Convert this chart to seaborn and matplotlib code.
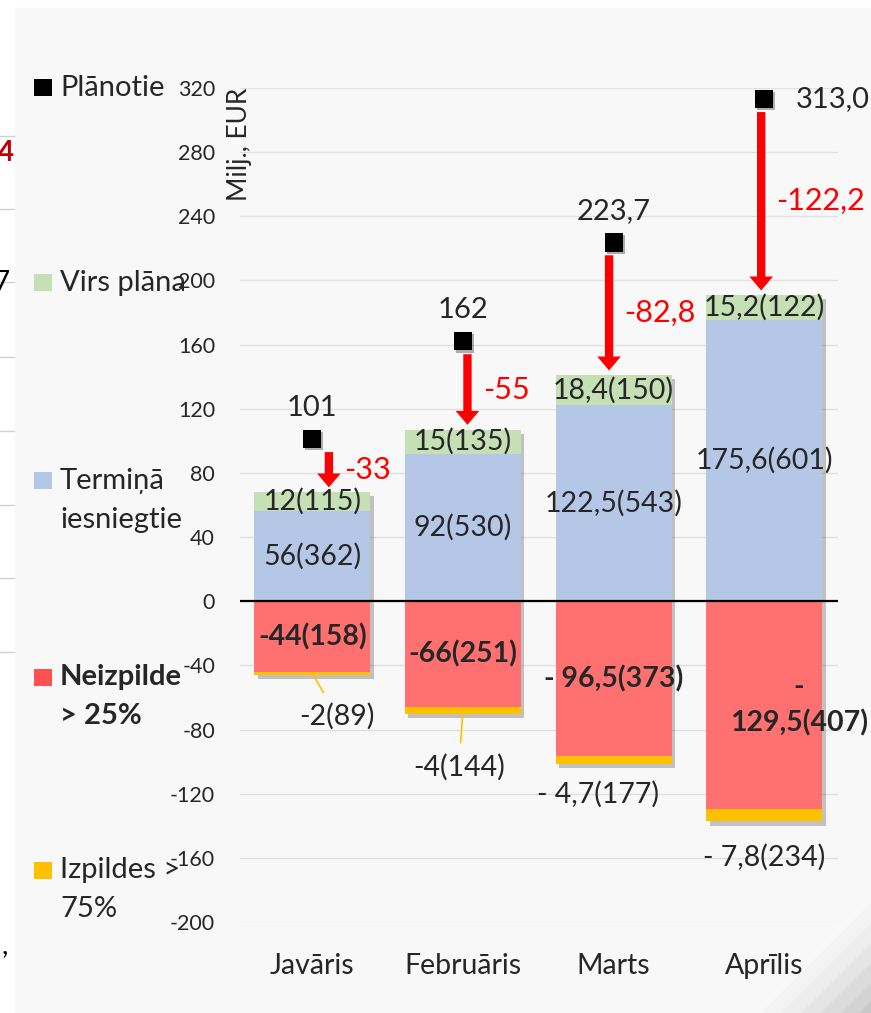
import numpy as np
import matplotlib
matplotlib.use("Agg")
import matplotlib.pyplot as plt
import seaborn as sns
import matplotlib.patheffects as pe
from matplotlib.patches import Rectangle, Polygon
from matplotlib.lines import Line2D

# Dati
menesi = ["Javāris", "Februāris", "Marts", "Aprīlis"]
planotie = [101, 162, 223.7, 313.0]
termina = [56, 92, 122.5, 175.6]
virs_plana = [12, 15, 18.4, 15.2]
neizpilde = [-44, -66, -96.5, -129.5]
izpildes = [-2, -4, -4.7, -7.8]

planotie_lbl = ["101", "162", "223,7", "313,0"]
starpiba_lbl = ["-33", "-55", "-82,8", "-122,2"]
termina_lbl = ["56(362)", "92(530)", "122,5(543)", "175,6(601)"]
virs_lbl = ["12(115)", "15(135)", "18,4(150)", "15,2(122)"]
neizpilde_lbl = ["-44(158)", "-66(251)", "- 96,5(373)", "-\n129,5(407)"]
izpildes_lbl = ["-2(89)", "-4(144)", "- 4,7(177)", "- 7,8(234)"]

legend_lbl = ["Plānotie", "Virs plāna", "Termiņā\niesniegtie", "Neizpilde\n> 25%", "Izpildes >\n75%"]

# krāsas
ZILA = "#b4c7e7"
ZALA = "#c5e0b4"
SARKANA = "#ff7171"
DZELTENA = "#ffc000"
FONS = "#f8f8f8"

sns.set_theme(style="white")
plt.rcParams["font.family"] = ["Lato", "DejaVu Sans"]

W, H = 871, 1013
fig = plt.figure(figsize=(W / 100, H / 100), dpi=100)
fig.patch.set_facecolor("white")

def fx(px):
    return px / W

def fy(py):
    return 1 - py / H

# pelēkais fons
fig.add_artist(Rectangle((fx(15), 0), 1, fy(8), transform=fig.transFigure,
                         color=FONS, zorder=-10))
# ēna labajā apakšējā stūrī
for d, a in [(110, 0.02), (90, 0.025), (70, 0.03), (50, 0.035), (30, 0.04), (12, 0.05)]:
    fig.add_artist(Polygon([(fx(W), fy(H - d)), (fx(W - d), fy(H)), (fx(W), fy(H))],
                           closed=True, transform=fig.transFigure,
                           color="black", alpha=a, lw=0, zorder=-9))
# nogrieztais saturs kreisajā malā
for py in [136, 209, 282, 357, 431, 505, 578, 652]:
    fig.add_artist(Line2D([0, fx(14)], [fy(py), fy(py)], transform=fig.transFigure,
                          color="#d0d0d0", lw=1))
fig.text(fx(14), fy(153), "4", color="#c00000", fontsize=20, weight="bold",
         ha="right", va="center")
fig.text(fx(10), fy(283), "7", color="black", fontsize=20, ha="right", va="center")
fig.text(fx(8), fy(945), ",", color="black", fontsize=20, ha="right", va="center")

ax = fig.add_axes([fx(240), fy(922), fx(838) - fx(240), fy(88) - fy(922)])
ax.set_facecolor("none")

pos_kopa = np.array(termina) + np.array(virs_plana)
neg_kopa = np.array(neizpilde) + np.array(izpildes)
x = np.arange(len(menesi))

shadow = [pe.withSimplePatchShadow(offset=(2.5, -3), shadow_rgbFace="black", alpha=0.22)]
bar_kw = dict(width=0.77, saturation=1, errorbar=None, ax=ax, linewidth=0, edgecolor="none")

n0 = len(ax.patches)
sns.barplot(x=menesi, y=pos_kopa, color=ZALA, zorder=2, **bar_kw)
sns.barplot(x=menesi, y=neg_kopa, color=DZELTENA, zorder=2, **bar_kw)
for p in ax.patches[n0:]:
    p.set_path_effects(shadow)
sns.barplot(x=menesi, y=termina, color=ZILA, zorder=3, **bar_kw)
sns.barplot(x=menesi, y=neizpilde, color=SARKANA, zorder=3, **bar_kw)

ax.axhline(0, color="black", lw=1.6, zorder=4)

# plānotie punkti
sns.scatterplot(x=x, y=planotie, marker="s", s=170, color="black", edgecolor="black",
                linewidth=0, ax=ax, zorder=6, clip_on=False,
                path_effects=[pe.withSimplePatchShadow(offset=(1.5, -1.5), alpha=0.3)])

bultas_dx = [0.11, 0.03, -0.03, -0.02]
for i in range(len(menesi)):
    xa = x[i] + bultas_dx[i]
    y0 = planotie[i] - 8
    y1 = pos_kopa[i] + 3
    ax.annotate("", xy=(xa, y1), xytext=(xa, y0),
                arrowprops=dict(arrowstyle="simple,head_length=0.5,head_width=0.85,tail_width=0.3",
                                mutation_scale=20, fc="#ff0000", ec="none",
                                shrinkA=0, shrinkB=0), zorder=5)
    ax.annotate(starpiba_lbl[i], xy=(xa, (y0 + y1) / 2), xytext=(11, 0),
                textcoords="offset points", ha="left", va="center",
                color="#ff0000", fontsize=22, zorder=7)

# plānoto vērtības
for i in range(len(menesi)):
    if i < 3:
        ax.annotate(planotie_lbl[i], xy=(x[i], planotie[i]), xytext=(0, 13),
                    textcoords="offset points", ha="center", va="bottom", fontsize=21)
    else:
        ax.annotate(planotie_lbl[i], xy=(x[i], planotie[i]), xytext=(23, 0),
                    textcoords="offset points", ha="left", va="center", fontsize=21)

# joslu uzraksti
FS = 20.5
neiz_dx = [0, 0, 0, 0.23]
for i in range(len(menesi)):
    ax.text(x[i], termina[i] + virs_plana[i] / 2, virs_lbl[i], ha="center", va="center",
            fontsize=FS, zorder=7)
    ax.text(x[i], termina[i] / 2, termina_lbl[i], ha="center", va="center",
            fontsize=FS, zorder=7)
    ax.text(x[i] + neiz_dx[i], neizpilde[i] / 2, neizpilde_lbl[i], ha="center", va="center",
            fontsize=FS, weight="bold", zorder=7, linespacing=1.45)

izp_off = [(18, -31), (-3, -40), (-11.5, -23), (0, -27)]
izp_liniju = [True, True, False, False]
for i in range(len(menesi)):
    props = None
    if izp_liniju[i]:
        props = dict(arrowstyle="-", color=DZELTENA, lw=1.2, shrinkA=6, shrinkB=0)
    ax.annotate(izpildes_lbl[i], xy=(x[i], neg_kopa[i] + 1), xytext=izp_off[i],
                textcoords="offset points", ha="center", va="center", fontsize=FS,
                arrowprops=props, zorder=7)

# asis
ax.set_xlim(-0.48, 3.49)
ax.set_ylim(-200, 320)
yt = np.arange(-200, 321, 40)
ax.set_yticks(yt)
ax.set_yticklabels([str(v) for v in yt])
ax.set_xticks(x)
ax.set_xticklabels(menesi)
ax.tick_params(axis="y", length=0, pad=18, labelsize=15.5)
ax.tick_params(axis="x", length=0, pad=22, labelsize=20.5)
ax.set_xlabel("")
ax.set_ylabel("")
ax.yaxis.grid(True, color="#e0e0e0", lw=1)
ax.set_axisbelow(True)
for s in ax.spines.values():
    s.set_visible(False)
ax.text(0.0, 1.0, "Milj., EUR", transform=ax.transAxes, rotation=90,
        ha="center", va="top", fontsize=19)

# leģenda
leg_krasas = ["black", ZALA, ZILA, "#ff5050", DZELTENA]
leg_y = [88, 283, 481, 677, 870]
for i, lbl in enumerate(legend_lbl):
    fig.add_artist(Rectangle((fx(34), fy(leg_y[i] + 8.5)), fx(18), 17 / H,
                             transform=fig.transFigure, color=leg_krasas[i], lw=0))
    for j, line in enumerate(lbl.split("\n")):
        fig.text(fx(60), fy(leg_y[i] + j * 39), line, fontsize=21, ha="left", va="center",
                 weight="bold" if i == 3 else "normal")

fig.savefig("out.png", dpi=100, facecolor=fig.get_facecolor())
